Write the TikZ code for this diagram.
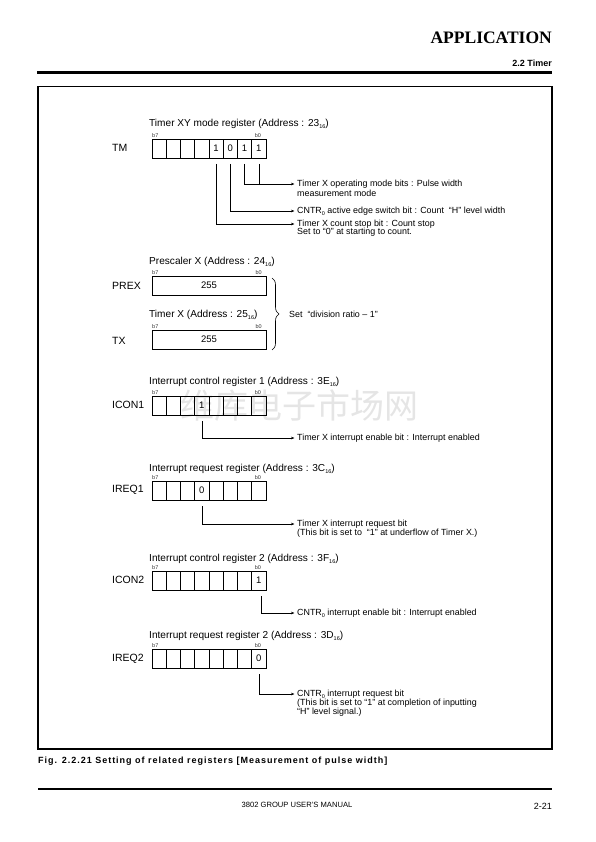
\documentclass[tikz,border=0pt]{standalone}
\usepackage{fontspec}
\setmainfont{Liberation Sans}
\newfontfamily\apfont{Liberation Serif}
\newfontfamily\cjk{Noto Sans CJK SC}
\newfontfamily\capfont{Liberation Sans}[LetterSpace=11]
\usetikzlibrary{arrows.meta,decorations.pathreplacing}
\newcommand\hexsub[1]{\raisebox{-0.4ex}{\fontsize{5.5}{6}\selectfont #1}}
\newcommand\myreg[3]{%
  \foreach [count=\k from 0] \v in {#3} {%
    \node[cell] (#1-\k) at (152+\k*14.25,#2) {\v};}
  \node[blbl,anchor=south west] (#1-b7) at ([yshift=1pt]#1-0.north west) {b7};
  \node[blbl,anchor=south] (#1-b0) at ([yshift=1pt,xshift=-1pt]#1-7.north) {b0};
}
\begin{document}
\begin{tikzpicture}[x=1pt,y=-1pt,
  cell/.style={draw,line width=0.7pt,minimum width=14.25pt,minimum height=19pt,
    inner sep=0pt,outer sep=0pt,anchor=north west,font=\fontsize{9.5}{10}\selectfont},
  widecell/.style={draw,line width=0.7pt,minimum width=114pt,minimum height=19pt,
    inner sep=0pt,outer sep=0pt,anchor=north west,font=\fontsize{9.5}{10}\selectfont},
  blbl/.style={inner sep=0pt,font=\fontsize{5.5}{6}\selectfont,text=black!80},
  reglbl/.style={anchor=west,inner sep=0pt,font=\fontsize{10.5}{12}\selectfont},
  title/.style={anchor=west,inner sep=0pt,font=\fontsize{10.1}{11}\selectfont},
  ann/.style={anchor=west,inner sep=0pt,font=\fontsize{8.9}{10}\selectfont},
  arr/.style={line width=0.6pt,-{Stealth[length=3.5pt,width=2.6pt]},shorten >=2.5pt,shorten <=6pt},
  plain/.style={line width=0.6pt,shorten <=6pt}]
\useasboundingbox (0,0) rectangle (595,842);

% header
\node[anchor=east,inner sep=0pt,font=\apfont\bfseries\fontsize{17.5}{20}\selectfont] (hdr) at (552,38) {APPLICATION};
\node[anchor=east,inner sep=0pt,font=\bfseries\fontsize{9}{10}\selectfont] (sec) at (552,63) {2.2 Timer};
\draw[line width=3pt] (37,72.5) -- (552,72.5);
\draw[line width=1.3pt] (38,86.5) rectangle (552,749);

% watermark
\node[inner sep=0pt,text=black!10,font=\cjk\fontsize{34}{36}\selectfont] (wm) at (299,406) {维库电子市场网};

% TM
\node[title] (tmt) at (149,124) {Timer XY mode register (Address : 23\hexsub{16})};
\node[reglbl] (tml) at (112,148) {TM};
\myreg{tm}{139}{{},{},{},{},1,0,1,1}
\node[ann] (t1) at (297,184) {Timer X operating mode bits : Pulse width};
\node[ann] (t1b) at (297,193) {measurement mode};
\node[ann] (t2) at (297,211) {CNTR\hexsub{0} active edge switch bit : Count \ “H” level width};
\node[ann] (t3) at (297,224) {Timer X count stop bit : Count stop};
\node[ann] (t3b) at (297,232.5) {Set to “0” at starting to count.};
\draw[arr] (tm-6.south) |- (t1.west);
\draw[plain] (tm-7.south) -- (tm-7.south |- t1.west);
\draw[arr] (tm-5.south) |- (t2.west);
\draw[arr] (tm-4.south) |- (t3.west);

% PREX / TX
\node[title] (prt) at (149,262) {Prescaler X (Address : 24\hexsub{16})};
\node[reglbl] (prl) at (112,286) {PREX};
\node[widecell] (prex) at (152,276) {255};
\node[blbl,anchor=south west] (prex-b7) at ([yshift=1pt]prex.north west) {b7};
\node[blbl,anchor=south east] (prex-b0) at ([yshift=1pt,xshift=-4pt]prex.north east) {b0};
\node[title] (txt) at (149,315) {Timer X (Address : 25\hexsub{16})};
\node[reglbl] (txl) at (112,341) {TX};
\node[widecell] (tx) at (152,330) {255};
\node[blbl,anchor=south west] (tx-b7) at ([yshift=1pt]tx.north west) {b7};
\node[blbl,anchor=south east] (tx-b0) at ([yshift=1pt,xshift=-4pt]tx.north east) {b0};
\coordinate (brt) at (272,278);
\coordinate (brb) at (272,350);
\draw[line width=0.6pt,decorate,decoration={brace,amplitude=7pt}] (brt) -- (brb);
\node[ann] (setdiv) at (289,314) {Set \ “division ratio – 1”};

% ICON1
\node[title] (i1t) at (149,382) {Interrupt control register 1 (Address : 3E\hexsub{16})};
\node[reglbl] (i1l) at (112,405) {ICON1};
\myreg{icona}{396}{{},{},{},1,{},{},{},{}}
\node[ann] (t4) at (297,438) {Timer X interrupt enable bit : Interrupt enabled};
\draw[arr] (icona-3.south) |- (t4.west);

% IREQ1
\node[title] (q1t) at (149,469) {Interrupt request register (Address : 3C\hexsub{16})};
\node[reglbl] (q1l) at (112,490) {IREQ1};
\myreg{ireqa}{481}{{},{},{},0,{},{},{},{}}
\node[ann] (t5) at (297,524) {Timer X interrupt request bit};
\node[ann] (t5b) at (297,533) {(This bit is set to \ “1” at underflow of Timer X.)};
\draw[arr] (ireqa-3.south) |- (t5.west);

% ICON2
\node[title] (i2t) at (149,559) {Interrupt control register 2 (Address : 3F\hexsub{16})};
\node[reglbl] (i2l) at (112,580) {ICON2};
\myreg{iconb}{571}{{},{},{},{},{},{},{},1}
\node[ann] (t6) at (297,613) {CNTR\hexsub{0} interrupt enable bit : Interrupt enabled};
\draw[arr] ([xshift=2pt]iconb-7.south) |- (t6.west);

% IREQ2
\node[title] (q2t) at (149,636) {Interrupt request register 2 (Address : 3D\hexsub{16})};
\node[reglbl] (q2l) at (112,659) {IREQ2};
\myreg{ireqb}{649}{{},{},{},{},{},{},{},0}
\node[ann] (t7) at (297,694) {CNTR\hexsub{0} interrupt request bit};
\node[ann] (t7b) at (297,703) {(This bit is set to “1” at completion of inputting};
\node[ann] (t7c) at (297,712) {“H” level signal.)};
\draw[arr] (ireqb-7.south) |- (t7.west);

% caption and footer
\node[anchor=west,inner sep=0pt,font=\capfont\bfseries\fontsize{9}{10}\selectfont] (cap) at (38,761) {Fig. 2.2.21 Setting of related registers [Measurement of pulse width]};
\draw[line width=1.3pt] (38,789) -- (552,789);
\node[inner sep=0pt,font=\fontsize{7.6}{8}\selectfont] (foot) at (297,805) {3802 GROUP USER’S MANUAL};
\node[anchor=east,inner sep=0pt,font=\fontsize{9}{10}\selectfont] (pg) at (552,806) {2-21};
\end{tikzpicture}
\end{document}
